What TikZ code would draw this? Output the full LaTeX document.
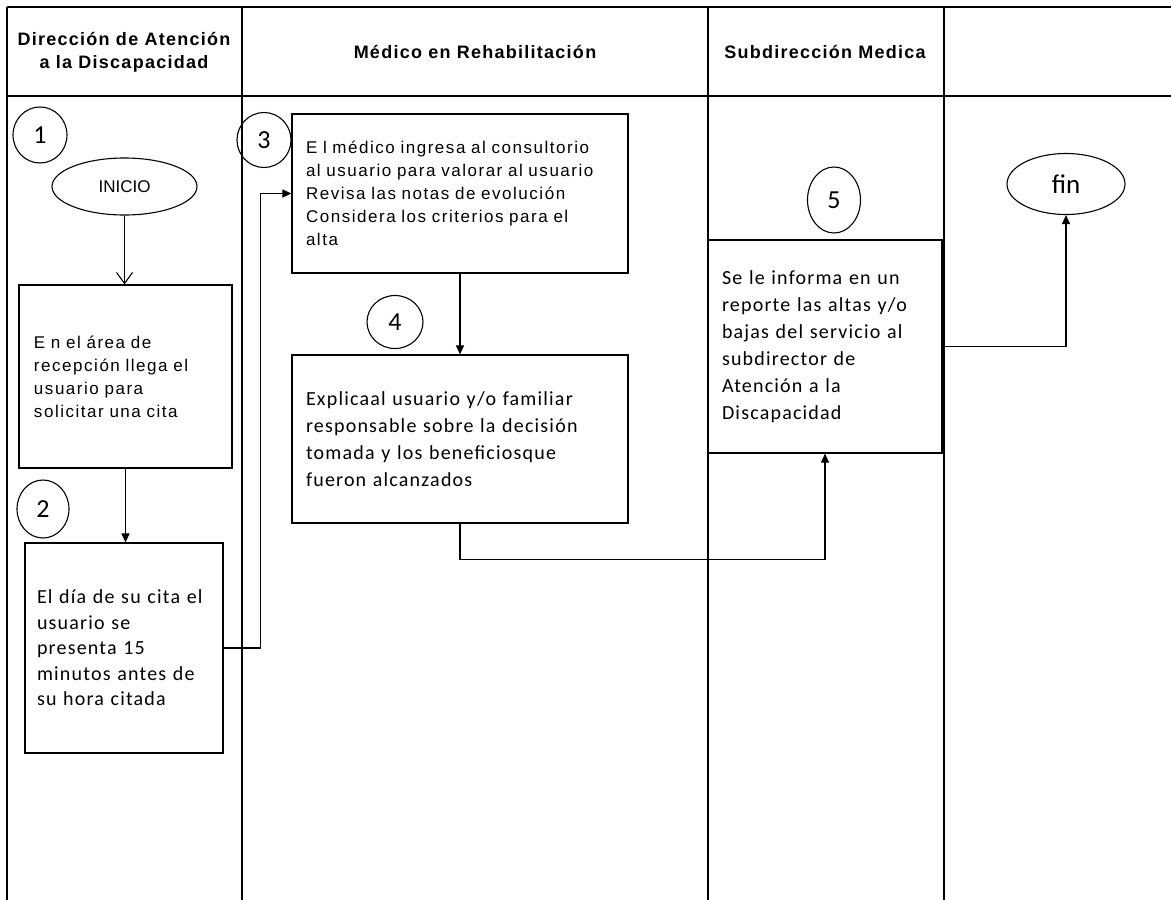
\documentclass[tikz,border=0pt]{standalone}
\usepackage{fontspec}
\setmainfont{Liberation Sans}
\newfontfamily\hdrfont[LetterSpace=7]{Liberation Sans}
\newfontfamily\arialsp[LetterSpace=9]{Liberation Sans}
\newfontfamily\calsp[LetterSpace=6]{Carlito}
\newfontfamily\calib{Carlito}
\usetikzlibrary{arrows.meta,shapes.geometric}
\begin{document}
\begin{tikzpicture}[x=1pt,y=-1pt,
  lane/.style={draw=black, line width=1.2pt},
  hdr/.style={align=center, inner sep=0pt, font=\hdrfont\bfseries\fontsize{18}{23}\selectfont},
  procbox/.style={draw=black, line width=1.2pt, rectangle, align=left, inner ysep=0pt},
  arialtxt/.style={font=\arialsp\fontsize{17}{23}\selectfont},
  caltxt/.style={font=\calsp\fontsize{20}{27}\selectfont},
  numcirc/.style={draw=black, line width=1.1pt, ellipse, inner sep=0pt, font=\calib\fontsize{26}{26}\selectfont},
  term/.style={draw=black, line width=1.1pt, ellipse, inner sep=0pt},
  flow/.style={draw=black, line width=1.1pt, -{Triangle[length=9pt,width=8pt]}},
  openflow/.style={draw=black, line width=1.1pt, -{Straight Barb[length=11pt,width=16pt]}}
]
\useasboundingbox (0,0) rectangle (1171,900);
% lanes
\draw[lane] (7,7) -- (1171,7);
\draw[lane] (7,96) -- (1171,96);
\draw[lane] (7,7) -- (7,900);
\draw[lane] (242,7) -- (242,900);
\draw[lane] (708,7) -- (708,900);
\draw[lane] (944,7) -- (944,900);
% headers
\node[hdr] (h1) at (124,52) {Dirección de Atención\\a la Discapacidad};
\node[hdr] (h2) at (475,52) {Médico en Rehabilitación};
\node[hdr] (h3) at (825,52) {Subdirección Medica};
% step numbers
\node[numcirc, minimum width=54pt, minimum height=56pt] (n1) at (40,135) {1};
\node[numcirc, minimum width=52pt, minimum height=58pt] (n2) at (43,509) {2};
\node[numcirc, minimum width=54pt, minimum height=55pt] (n3) at (264,140) {3};
\node[numcirc, minimum width=56pt, minimum height=53pt] (n4) at (395,322) {4};
\node[numcirc, minimum width=53pt, minimum height=66pt] (n5) at (834,200) {5};
% terminals
\node[term, minimum width=145pt, minimum height=57pt, font=\fontsize{17}{17}\selectfont] (inicio) at (124.5,186.5) {INICIO};
\node[term, minimum width=118pt, minimum height=61pt, font=\calib\fontsize{27}{27}\selectfont] (fin) at (1066,184) {fin};
% process boxes
\node[procbox, arialtxt, inner xsep=15pt, text width=183pt, minimum height=183pt] (b1) at (125.5,376.5)
  {E n el área de\\recepción llega el\\usuario para\\solicitar una cita};
\node[procbox, inner xsep=12pt, text width=174pt, minimum height=210pt, font=\calsp\fontsize{20}{25.5}\selectfont] (b2) at (124,648)
  {El día de su cita el\\usuario se\\presenta 15\\minutos antes de\\su hora citada};
\node[procbox, arialtxt, inner xsep=14pt, text width=308pt, minimum height=159pt] (b3) at (460,193.5)
  {E l médico ingresa al consultorio\\al usuario para valorar al usuario\\Revisa las notas de evolución\\Considera los criterios para el\\alta};
\node[procbox, caltxt, inner xsep=14pt, text width=308pt, minimum height=168pt] (b4) at (460,439)
  {Explicaal usuario y/o familiar\\responsable sobre la decisión\\tomada y los beneficiosque\\fueron alcanzados};
\node[procbox, caltxt, inner xsep=14pt, text width=206pt, minimum height=213pt] (b5) at (825,346.5)
  {Se le informa en un\\reporte las altas y/o\\bajas del servicio al\\subdirector de\\Atención a la\\Discapacidad};
% connectors
\draw[openflow] (inicio.south) -- (inicio.south |- b1.north);
\draw[flow] (b1.south) -- (b1.south |- b2.north);
\draw[flow] (b2.east) -- ++(37,0) |- (b3.west);
\draw[flow] (b3.south) -- (b3.south |- b4.north);
\draw[flow] (b4.south) -- ++(0,36) -| (b5.south);
\draw[flow] (b5.east) -| (fin.south);
\end{tikzpicture}
\end{document}
